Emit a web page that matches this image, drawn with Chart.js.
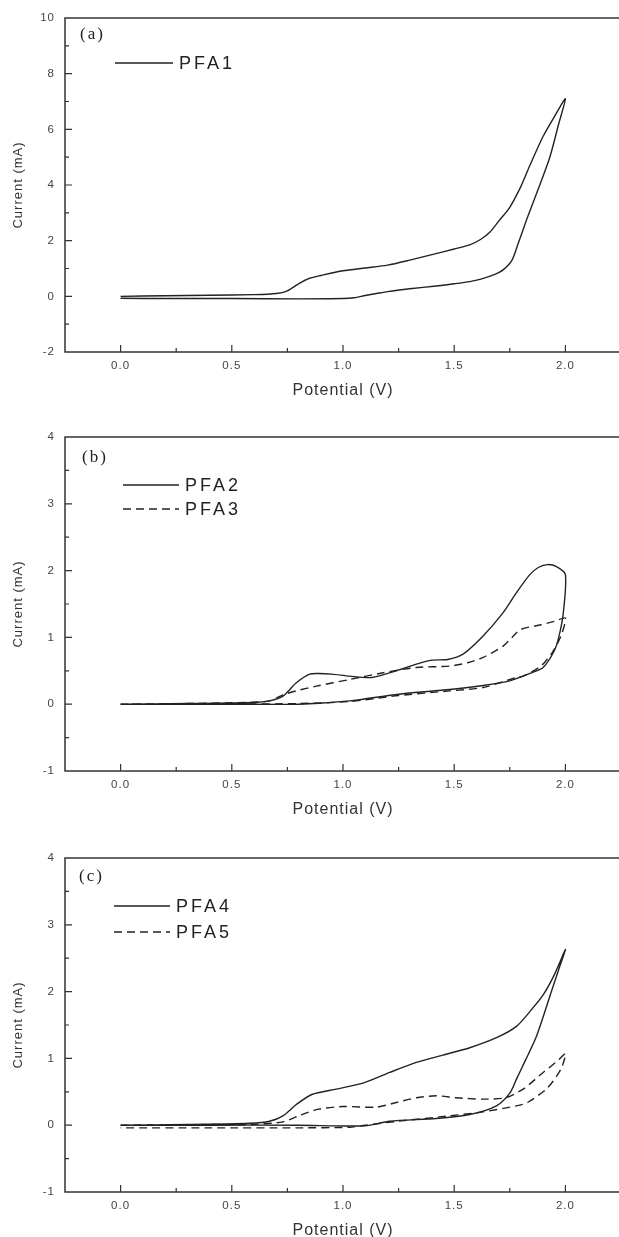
<!DOCTYPE html>
<html>
<head>
<meta charset="utf-8">
<script src="https://cdn.jsdelivr.net/npm/chart.js@4.4.1/dist/chart.umd.min.js"></script>
<style>
html, body { margin: 0; padding: 0; background: #fff; overflow: hidden; width: 619px; height: 1237px; }
canvas { position: absolute; left: 0; }
</style>
</head>
<body>
<canvas id="chartA" width="624" height="415" style="top:0px"></canvas>
<canvas id="chartB" width="624" height="415" style="top:419px"></canvas>
<canvas id="chartC" width="624" height="415" style="top:840px"></canvas>
<script>
// cyclic voltammograms, potential (V) vs current (mA), forward scan then return scan
const pfa1V = [0, 0.2, 0.4, 0.6, 0.7, 0.75, 0.8, 0.85, 0.9, 1.0, 1.1, 1.2, 1.3, 1.4, 1.5, 1.57, 1.62, 1.66, 1.7, 1.75, 1.8, 1.84, 1.9, 1.95, 2.0,
  1.97, 1.93, 1.88, 1.83, 1.79, 1.76, 1.72, 1.68, 1.62, 1.57, 1.5, 1.42, 1.3, 1.2, 1.15, 1.1, 1.05, 1.0, 0.8, 0.5, 0.2, 0.0]
const pfa1I = [0.0, 0.02, 0.04, 0.06, 0.1, 0.2, 0.45, 0.65, 0.75, 0.92, 1.02, 1.12, 1.3, 1.5, 1.7, 1.85, 2.05, 2.3, 2.7, 3.2, 3.95, 4.7, 5.75, 6.45, 7.1,
  6.2, 5.0, 3.9, 2.85, 1.95, 1.3, 0.95, 0.78, 0.62, 0.53, 0.45, 0.37, 0.27, 0.17, 0.1, 0.03, -0.05, -0.08, -0.09, -0.08, -0.08, -0.07]

const pfa2V = [0, 0.3, 0.6, 0.67, 0.73, 0.79, 0.85, 0.89, 0.95, 1.03, 1.13, 1.24, 1.33, 1.4, 1.47, 1.54, 1.63, 1.72, 1.78, 1.84, 1.88, 1.92, 1.96, 2.0,
  1.99, 1.97, 1.95, 1.9, 1.84, 1.75, 1.63, 1.48, 1.25, 1.03, 0.8, 0.5, 0.2, 0.0]
const pfa2I = [0, 0.01, 0.025, 0.05, 0.12, 0.32, 0.45, 0.46, 0.45, 0.42, 0.4, 0.5, 0.6, 0.66, 0.67, 0.75, 1.02, 1.37, 1.67, 1.94, 2.05, 2.09, 2.06, 1.94,
  1.35, 1.0, 0.8, 0.55, 0.46, 0.35, 0.28, 0.22, 0.15, 0.05, 0.0, 0.0, 0.0, 0.0]

const pfa3V = [0, 0.3, 0.6, 0.67, 0.73, 0.79, 0.88, 1.03, 1.18, 1.33, 1.48, 1.56, 1.63, 1.72, 1.76, 1.8, 1.89, 1.95, 2.0,
  1.98, 1.94, 1.89, 1.81, 1.78, 1.63, 1.48, 1.25, 1.03, 0.8, 0.5, 0.2, 0.0]
const pfa3I = [0, 0.01, 0.03, 0.05, 0.14, 0.2, 0.27, 0.37, 0.47, 0.55, 0.57, 0.62, 0.7, 0.87, 1.0, 1.12, 1.19, 1.24, 1.29,
  1.02, 0.77, 0.57, 0.42, 0.4, 0.25, 0.2, 0.13, 0.04, 0.01, 0.0, 0.0, 0.0]

const pfa4V = [0, 0.3, 0.58, 0.67, 0.73, 0.79, 0.86, 0.97, 1.09, 1.21, 1.33, 1.45, 1.57, 1.69, 1.78, 1.84, 1.9, 1.95, 2.0,
  1.97, 1.94, 1.87, 1.82, 1.78, 1.75, 1.69, 1.57, 1.42, 1.21, 1.1, 0.8, 0.4, 0.0]
const pfa4I = [0, 0.01, 0.03, 0.06, 0.14, 0.31, 0.46, 0.54, 0.63, 0.79, 0.94, 1.05, 1.16, 1.31, 1.48, 1.7, 1.95, 2.25, 2.63,
  2.33, 2.03, 1.33, 0.97, 0.69, 0.48, 0.29, 0.16, 0.1, 0.06, -0.01, 0.0, 0.0, 0.0]

const pfa5V = [0, 0.4, 0.58, 0.73, 0.8, 0.89, 1.0, 1.15, 1.24, 1.33, 1.42, 1.51, 1.63, 1.73, 1.81, 1.9, 1.96, 2.0,
  1.98, 1.92, 1.83, 1.78, 1.63, 1.48, 1.25, 1.1, 1.03, 0.8, 0.4, 0.0]
const pfa5I = [0.0, 0.01, 0.01, 0.05, 0.14, 0.24, 0.28, 0.27, 0.34, 0.41, 0.44, 0.41, 0.39, 0.41, 0.54, 0.79, 0.95, 1.07,
  0.84, 0.56, 0.34, 0.29, 0.2, 0.14, 0.06, 0.0, -0.03, -0.04, -0.04, -0.04]

// axis ticks
const xLabels = [0, 0.5, 1.0, 1.5, 2.0]
const xMinor = [0.25, 0.75, 1.25, 1.75]
const yLabelsA = [-2, 0, 2, 4, 6, 8, 10]
const yMinorA = [-1, 1, 3, 5, 7, 9]
const yLabelsBC = [-1, 0, 1, 2, 3, 4]
const yMinorBC = [-0.5, 0.5, 1.5, 2.5, 3.5]

const ink = '#222'
const sans = '"Liberation Sans", Arial, sans-serif'

function pts(vs, is) {
  return vs.map((v, k) => ({ x: v, y: is[k] }))
}

function curve(label, vs, is, dash) {
  return {
    label: label,
    data: pts(vs, is),
    showLine: true,
    borderColor: ink,
    borderWidth: 1.4,
    borderDash: dash,
    pointRadius: 0,
    tension: 0.25,
    fill: false
  }
}

// frame, inward ticks, panel tag and legend
const framePlugin = {
  id: 'frame',
  beforeDraw(chart) {
    chart.ctx.letterSpacing = '1px'
  },
  afterDraw(chart, args, o) {
    const ctx = chart.ctx
    const a = chart.chartArea
    const xs = chart.scales.x
    const ys = chart.scales.y
    ctx.save()
    ctx.strokeStyle = '#333'
    ctx.lineWidth = 1.5
    ctx.setLineDash([])
    ctx.strokeRect(a.left, a.top, a.right - a.left, a.bottom - a.top)
    ctx.lineWidth = 1.2
    ctx.beginPath()
    xLabels.forEach(v => { const p = xs.getPixelForValue(v); ctx.moveTo(p, a.bottom); ctx.lineTo(p, a.bottom - 7) })
    xMinor.forEach(v => { const p = xs.getPixelForValue(v); ctx.moveTo(p, a.bottom); ctx.lineTo(p, a.bottom - 4) })
    o.yMajor.forEach(v => { const p = ys.getPixelForValue(v); ctx.moveTo(a.left, p); ctx.lineTo(a.left + 7, p) })
    o.yMinor.forEach(v => { const p = ys.getPixelForValue(v); ctx.moveTo(a.left, p); ctx.lineTo(a.left + 4, p) })
    ctx.stroke()

    ctx.fillStyle = '#222'
    ctx.textBaseline = 'middle'
    ctx.textAlign = 'left'
    ctx.letterSpacing = '2px'
    ctx.font = '17px "Liberation Serif", "Times New Roman", serif'
    ctx.fillText(o.tag, o.tagX, o.tagY)

    ctx.letterSpacing = '3px'
    ctx.font = '18px ' + sans
    chart.data.datasets.forEach((ds, k) => {
      const ly = o.legY + k * o.legGap
      ctx.strokeStyle = ink
      ctx.lineWidth = 1.4
      ctx.setLineDash(ds.borderDash || [])
      ctx.beginPath()
      ctx.moveTo(o.legX, ly)
      ctx.lineTo(o.legX + o.legLen, ly)
      ctx.stroke()
      ctx.setLineDash([])
      ctx.fillText(ds.label, o.legX + o.legLen + 6, ly + 1)
    })
    ctx.restore()
  }
}

function makeChart(id, datasets, yMin, yMax, yLabels, yMinor, panel) {
  const ctx = document.getElementById(id).getContext('2d')
  return new Chart(ctx, {
    type: 'scatter',
    data: { datasets: datasets },
    plugins: [framePlugin],
    options: {
      responsive: false,
      animation: false,
      layout: { padding: { top: 18, right: 3, left: 0, bottom: 0 } },
      scales: {
        x: {
          type: 'linear', min: -0.25, max: 2.25,
          grid: { display: false, drawTicks: false },
          border: { display: false },
          afterBuildTicks: s => { s.ticks = xLabels.map(v => ({ value: v })) },
          afterFit: s => { s.height = 63 },
          ticks: { color: '#444', padding: 7, font: { family: sans, size: 11.5 }, callback: v => v.toFixed(1) },
          title: { display: true, text: 'Potential (V)', color: '#333', font: { family: sans, size: 16 }, padding: { top: 15, bottom: 15 } }
        },
        y: {
          type: 'linear', min: yMin, max: yMax,
          grid: { display: false, drawTicks: false },
          border: { display: false },
          afterBuildTicks: s => { s.ticks = yLabels.map(v => ({ value: v })) },
          afterFit: s => { s.width = 65 },
          ticks: { color: '#444', padding: 10, font: { family: sans, size: 11.5 }, callback: v => String(v) },
          title: { display: true, text: 'Current (mA)', color: '#333', font: { family: sans, size: 13 }, padding: { top: 11, bottom: 11 } }
        }
      },
      plugins: {
        legend: { display: false },
        tooltip: { enabled: false },
        frame: Object.assign({ yMajor: yLabels.slice(1, -1), yMinor: yMinor }, panel)
      }
    }
  })
}

makeChart('chartA', [curve('PFA1', pfa1V, pfa1I, [])], -2, 10, yLabelsA, yMinorA,
  { tag: '(a)', tagX: 80, tagY: 35, legX: 115, legY: 63, legLen: 58, legGap: 24 })
makeChart('chartB', [curve('PFA2', pfa2V, pfa2I, []), curve('PFA3', pfa3V, pfa3I, [8, 5])], -1, 4, yLabelsBC, yMinorBC,
  { tag: '(b)', tagX: 82, tagY: 39, legX: 123, legY: 66, legLen: 56, legGap: 24 })
makeChart('chartC', [curve('PFA4', pfa4V, pfa4I, []), curve('PFA5', pfa5V, pfa5I, [8, 5])], -1, 4, yLabelsBC, yMinorBC,
  { tag: '(c)', tagX: 79, tagY: 37, legX: 114, legY: 66, legLen: 56, legGap: 26 })
</script>
</body>
</html>
